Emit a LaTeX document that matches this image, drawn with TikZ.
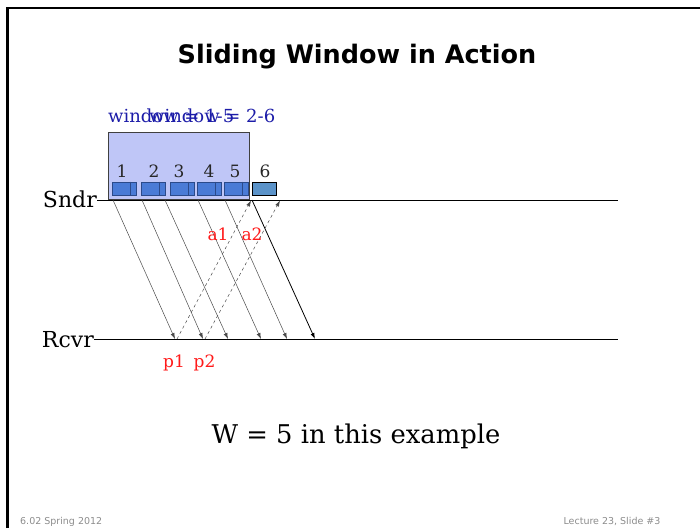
\documentclass[tikz,border=0pt]{standalone}
\usepackage{fontspec}
\setmainfont{DejaVu Serif}
\setsansfont{DejaVu Sans}
\usetikzlibrary{arrows.meta,positioning}
\definecolor{winfill}{HTML}{BFC6F7}
\definecolor{winedge}{HTML}{404040}
\definecolor{pktfill}{HTML}{4A7BD6}
\definecolor{pktedge}{HTML}{2B4A8A}
\definecolor{lastfill}{HTML}{5B93C9}
\definecolor{winblue}{HTML}{1C1CA8}
\definecolor{ackred}{HTML}{FF1A1A}
\definecolor{arrowgray}{HTML}{4A4A4A}
\definecolor{footgray}{HTML}{8C8C8C}
\tikzset{
  slide frame/.style={
    draw=black,
    line width=2.5pt
  },
  slidetitle/.style={
    font=\sffamily\bfseries\fontsize{25.5}{28}\selectfont,
    anchor=base,
    inner sep=0pt
  },
  host/.style={
    font=\fontsize{22}{25}\selectfont,
    anchor=base east,
    inner sep=0pt
  },
  timeline/.style={
    draw=black,
    line width=0.8pt
  },
  winbox/.style={
    draw=winedge,
    line width=0.8pt,
    fill=winfill,
    minimum width=141pt,
    minimum height=67pt,
    inner sep=0pt
  },
  winlabel/.style={
    font=\fontsize{18}{20}\selectfont,
    text=winblue,
    anchor=base west,
    inner sep=0pt
  },
  packet/.style={
    draw=pktedge,
    line width=0.6pt,
    fill=pktfill,
    minimum width=24pt,
    minimum height=13pt,
    inner sep=0pt
  },
  lastpacket/.style={
    packet,
    draw=black,
    fill=lastfill
  },
  pktnum/.style={
    font=\fontsize{17}{19}\selectfont,
    text=black!85,
    inner sep=0pt
  },
  data/.style={
    -{Latex[length=6pt,width=4pt]},
    draw=arrowgray,
    line width=0.5pt
  },
  lastdata/.style={
    data,
    draw=black,
    line width=0.8pt
  },
  ack/.style={
    -{Latex[length=6pt,width=4pt]},
    draw=arrowgray,
    dashed,
    line width=0.5pt
  },
  redlabel/.style={
    font=\fontsize{17}{19}\selectfont,
    text=ackred,
    inner sep=0pt
  },
  note/.style={
    font=\fontsize{25.8}{30}\selectfont,
    anchor=base,
    inner sep=0pt
  },
  footer/.style={
    font=\sffamily\fontsize{9.5}{11}\selectfont,
    text=footgray,
    inner sep=0pt
  }
}

\begin{document}
\begin{tikzpicture}[x=1pt,y=-1pt]

\useasboundingbox (0,0) rectangle (700,528);

% ---------------------------------------------------------------------------
% Slide frame and title
% ---------------------------------------------------------------------------
\coordinate (frameBottom) at (7.5,528);
\coordinate (frameCorner) at (7.5,8);
\coordinate (frameRight) at (700,8);
\draw[slide frame] (frameBottom) -- (frameCorner) -- (frameRight);

\node[slidetitle] (title) at (357,63) {Sliding Window in Action};

% ---------------------------------------------------------------------------
% Sender and receiver time lines
% ---------------------------------------------------------------------------
\node[host] (sndr) at (97,207) {Sndr};
\node[host] (rcvr) at (94,347) {Rcvr};

\coordinate (sndrStart) at (97,200);
\coordinate (sndrEnd) at (618,200);
\coordinate (rcvrStart) at (94,339.5);
\coordinate (rcvrEnd) at (618,339.5);

% ---------------------------------------------------------------------------
% Window and packets
% ---------------------------------------------------------------------------
\node[winbox, anchor=south west] (win) at (108,200) {};

\node[winlabel] (winOld) at (108,122) {window = 1-5};
\node[winlabel] (winNew) at (149,122) {window = 2-6};

\node[packet] (pk1) at (124,188.5) {};
\node[packet] (pk2) at (153,188.5) {};
\node[packet] (pk3) at (182,188.5) {};
\node[packet] (pk4) at (209,188.5) {};
\node[packet] (pk5) at (236,188.5) {};
\node[lastpacket] (pk6) at (264,188.5) {};

\draw[draw=pktedge, line width=0.6pt] ([xshift=-6pt]pk1.north east) -- ([xshift=-6pt]pk1.south east);
\draw[draw=pktedge, line width=0.6pt] ([xshift=-6pt]pk2.north east) -- ([xshift=-6pt]pk2.south east);
\draw[draw=pktedge, line width=0.6pt] ([xshift=-6pt]pk3.north east) -- ([xshift=-6pt]pk3.south east);
\draw[draw=pktedge, line width=0.6pt] ([xshift=-6pt]pk4.north east) -- ([xshift=-6pt]pk4.south east);
\draw[draw=pktedge, line width=0.6pt] ([xshift=-6pt]pk5.north east) -- ([xshift=-6pt]pk5.south east);

\node[pktnum, above=4pt of pk1, xshift=-2pt] (num1) {1};
\node[pktnum, above=4pt of pk2, xshift=1pt] (num2) {2};
\node[pktnum, above=4pt of pk3, xshift=-3pt] (num3) {3};
\node[pktnum, above=4pt of pk4] (num4) {4};
\node[pktnum, above=4pt of pk5, xshift=-1pt] (num5) {5};
\node[pktnum, above=4pt of pk6, xshift=1pt] (num6) {6};

\draw[timeline] (sndrStart) -- (sndrEnd);
\draw[timeline] (rcvrStart) -- (rcvrEnd);

% ---------------------------------------------------------------------------
% Data packets in flight
% ---------------------------------------------------------------------------
\coordinate (send1) at (113,200);
\coordinate (send2) at (142,200);
\coordinate (send3) at (165,200);
\coordinate (send4) at (198,200);
\coordinate (send5) at (225,200);
\coordinate (send6) at (252,200);

\coordinate (recv1) at (175,339);
\coordinate (recv2) at (203,339);
\coordinate (recv3) at (228,339);
\coordinate (recv4) at (261,339);
\coordinate (recv5) at (287,339);
\coordinate (recv6) at (315,339);

\draw[data] (send1) -- (recv1);
\draw[data] (send2) -- (recv2);
\draw[data] (send3) -- (recv3);
\draw[data] (send4) -- (recv4);
\draw[data] (send5) -- (recv5);
\draw[lastdata] (send6) -- (recv6);

% Acks going back.
\coordinate (ackOut1) at (177,339);
\coordinate (ackOut2) at (205,339);
\coordinate (ackIn1) at (251,200.5);
\coordinate (ackIn2) at (280,200.5);

\draw[ack] (ackOut1) -- (ackIn1);
\draw[ack] (ackOut2) -- (ackIn2);

\node[redlabel] (a1) at (218,234) {a1};
\node[redlabel] (a2) at (252,234) {a2};
\node[redlabel, anchor=base] (p1) at (174,367) {p1};
\node[redlabel, anchor=base] (p2) at (204.5,367) {p2};

% ---------------------------------------------------------------------------
% Note and footer
% ---------------------------------------------------------------------------
\node[note] (wnote) at (356,443) {W = 5 in this example};

\node[footer, anchor=base west] (course) at (20,524) {6.02 Spring 2012};
\node[footer, anchor=base] (slideno) at (612,524) {Lecture 23, Slide \#3};

\end{tikzpicture}
\end{document}
